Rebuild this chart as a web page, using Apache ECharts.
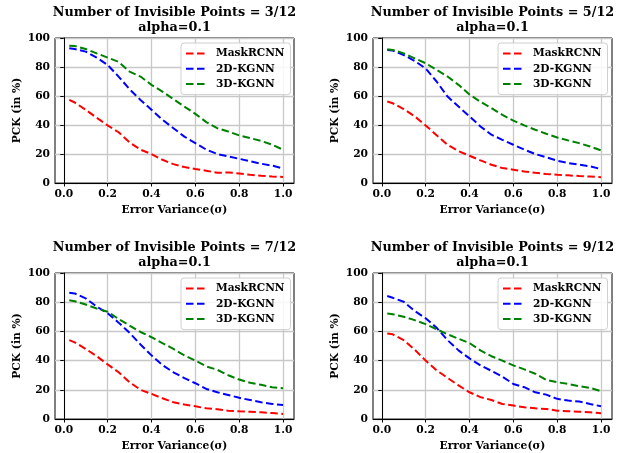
<!DOCTYPE html>
<html>
<head>
<meta charset="utf-8">
<script src="https://cdn.jsdelivr.net/npm/echarts@6/dist/echarts.min.js"></script>
<style>
html,body{margin:0;padding:0;background:#fff;}
#chart{width:622px;height:453px;}
</style>
</head>
<body>
<div id="chart"></div>
<script>
// ---- data ----
const xs = [0.025,0.05,0.1,0.15,0.2,0.25,0.3,0.35,0.4,0.45,0.5,0.55,0.6,0.65,0.7,0.75,0.8,0.85,0.9,0.95,1.0];
const seriesNames = ['MaskRCNN','2D-KGNN','3D-KGNN'];
const panelTitles = ['Number of Invisible Points = 3/12','Number of Invisible Points = 5/12','Number of Invisible Points = 7/12','Number of Invisible Points = 9/12'];
const subTitle = 'alpha=0.1';
const xTicks = [0,0.2,0.4,0.6,0.8,1.0];

const mask_3 = [57.3,55.5,50.5,45,39.7,35,28,23,20,16,13,11,9.6,8.5,7,7.3,6.6,5.7,5,4.5,4.2];
const kgnn2d_3 = [93,92.4,90.6,86.5,81.4,73.4,64.7,57.3,50.5,43.6,37.8,32,27.5,23,20,18.3,16.7,15,13.3,12,10];
const kgnn3d_3 = [94.7,94.5,92.4,89.4,86.5,83.5,76.8,73.4,67.7,63,57.8,52.7,47.7,42,37.8,35.5,32.8,31,29,26.4,23];

const mask_5 = [56.2,55,51,46,39.7,33,26.4,22,18.8,15.6,12.6,10.3,9.2,8,7,6.2,5.7,5.3,4.8,4.4,4];
const kgnn2d_5 = [91.7,91.3,88.3,84.2,79,70,59.6,52.7,46,39,33.3,29.8,26.4,23,20,17.7,15.4,13.8,12.6,11.5,9.6];
const kgnn3d_5 = [92.2,91.8,89.4,86,82.6,78,73.4,67.7,61,56,51.6,47,43,39.7,36.7,34,31.4,29.4,27.5,25.2,22.5];

const mask_7 = [54,52.5,48,43,37.4,32,25.2,20,17.2,14.2,11.5,9.9,8.7,7.3,6.7,5.7,5.3,5,4.6,4.1,3.5];
const kgnn2d_7 = [86.5,86,82.6,77,72.5,66,59,51,43.6,37,32,28,24.5,20.6,18.3,16.5,14.5,13,11.5,10.3,9.6];
const kgnn3d_7 = [81.4,80.7,78.4,75.7,73.5,68.5,64,59.6,56,52,48,43.6,40,36,33.7,30,27,24.8,23.4,21.8,21];

const mask_9 = [58.5,58,54,47.5,40,33.3,28.2,23,18.3,15,13,10.3,9.2,8,7.3,6.9,5.7,5.3,5,4.6,4];
const kgnn2d_9 = [84.2,83,80.3,74,69,62.5,54,47,41.5,36.7,33,29,24,21.8,18.3,16.7,13.8,12.6,12,10.3,8.7];
const kgnn3d_9 = [72.2,71.8,70,67.7,65,61.5,58,55,52,47,43,40,36.7,34,31,26.8,25.2,24,22.5,21.3,19];

const panelData = [
  [mask_3, kgnn2d_3, kgnn3d_3],
  [mask_5, kgnn2d_5, kgnn3d_5],
  [mask_7, kgnn2d_7, kgnn3d_7],
  [mask_9, kgnn2d_9, kgnn3d_9]
];

// ---- layout / style ----
const colors = ['#ff0000','#0000ff','#008000'];
const FONT = 'DejaVu Serif';
const grids = [
  {left:55, top:38, width:239, height:145},
  {left:373, top:38, width:239, height:145},
  {left:55, top:273, width:239, height:146},
  {left:373, top:273, width:239, height:146}
];
const legendPos = [
  {left:181, top:43},
  {left:498, top:43},
  {left:181, top:278},
  {left:498, top:278}
];

const chart = echarts.init(document.getElementById('chart'), null, {renderer:'canvas'});

const option = {
  backgroundColor:'#fff',
  animation:false,
  grid: grids.map(g => Object.assign({show:true, borderColor:'#000', borderWidth:1, backgroundColor:'transparent'}, g)),
  xAxis: grids.map((g,i) => ({
    gridIndex:i, type:'value', min:-0.04, max:1.05,
    name:'Error Variance(σ)', nameLocation:'middle', nameGap:22,
    nameTextStyle:{fontFamily:FONT, fontWeight:'bold', fontSize:10.7, color:'#000'},
    axisLine:{show:true, onZero:false, lineStyle:{color:'#000', width:1}},
    axisTick:{show:true, length:3.5, customValues:xTicks, lineStyle:{color:'#000'}},
    axisLabel:{show:true, customValues:xTicks, margin:6, fontFamily:FONT, fontWeight:'bold', fontSize:10.7, color:'#000',
      formatter: v => v.toFixed(1)},
    splitLine:{show:true, lineStyle:{color:'#c8c8c8', width:1.3}}
  })),
  yAxis: grids.map((g,i) => ({
    gridIndex:i, type:'value', min:0, max:100, interval:20,
    name:'PCK (in %)', nameLocation:'middle', nameGap:32,
    nameTextStyle:{fontFamily:FONT, fontWeight:'bold', fontSize:10.7, color:'#000'},
    axisLine:{show:true, lineStyle:{color:'#000', width:1}},
    axisTick:{show:true, length:3.5, lineStyle:{color:'#000'}},
    axisLabel:{show:true, margin:5, fontFamily:FONT, fontWeight:'bold', fontSize:10.7, color:'#000'},
    splitLine:{show:true, lineStyle:{color:'#c8c8c8', width:1.3}}
  })),
  legend: legendPos.map(p => ({
    left:p.left, top:p.top, orient:'vertical', selectedMode:false,
    data: seriesNames,
    itemWidth:20, itemHeight:14, itemGap:4,
    padding:[5,6,5,4],
    borderColor:'#d0d0d0', borderWidth:1, borderRadius:3,
    backgroundColor:'rgba(255,255,255,0.85)',
    itemStyle:{opacity:0},
    textStyle:{fontFamily:FONT, fontWeight:'bold', fontSize:10.6, color:'#000', padding:[0,0,0,5]}
  })),
  graphic: grids.map((g,i) => ({
    type:'text', x: g.left + g.width/2, y: g.top - 32.5,
    style:{text: panelTitles[i] + '\n' + subTitle, textAlign:'center', textVerticalAlign:'top',
      font:'bold 12.8px "DejaVu Serif"', fill:'#000', lineHeight:15}
  })),
  series: []
};

panelData.forEach((vals, i) => {
  vals.forEach((arr, k) => {
    option.series.push({
      name: seriesNames[k], type:'line', xAxisIndex:i, yAxisIndex:i,
      symbol:'none', smooth:false,
      lineStyle:{color:colors[k], width:2, type:[7.5,3.5]},
      itemStyle:{color:colors[k]},
      data: xs.map((x,j) => [x, arr[j]])
    });
  });
});

chart.setOption(option);
</script>
</body>
</html>
